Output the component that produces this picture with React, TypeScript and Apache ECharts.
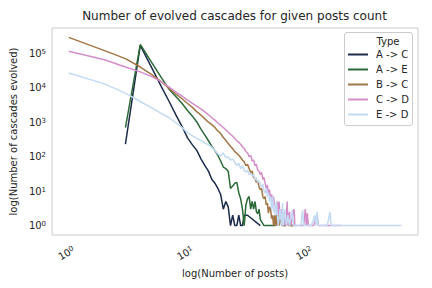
import { useEffect, useRef } from "react";
import * as echarts from "echarts";

const seriesNames = ["A -> C", "A -> E", "B -> C", "C -> D", "E -> D"];
const seriesColors = ["#1c2b4b", "#2b6a38", "#a37646", "#d38ec8", "#c3daf3"];

const acPoints = [
  [3, 230], [4, 170000], [5, 38000], [6, 11000], [7, 4000], [8, 1600], [9, 750],
  [10, 350], [11, 220], [12, 150], [13, 85], [14, 55], [15, 38], [16, 22], [17, 17],
  [18, 12], [19, 8], [20, 3], [21, 5], [22, 3.5], [23, 1], [24, 2], [25, 1], [26, 1],
  [27, 2], [28, 1], [29, 1], [30, 2], [32, 2], [41, 1],
];

const aePoints = [
  [3, 700], [4, 180000], [5, 54000], [6, 20000], [7, 9000], [8, 5500], [9, 3500],
  [10, 2200], [11, 1500], [12, 1000], [13, 620], [14, 420], [15, 290], [16, 200],
  [17, 150], [18, 110], [19, 75], [20, 50], [21, 45], [22, 38], [23, 12], [24, 14],
  [25, 17], [26, 18], [27, 9], [28, 6], [29, 3], [30, 1], [31, 4], [32, 6], [33, 7],
  [34, 3], [35, 5], [36, 3], [37, 5], [38, 2.5], [39, 2.2], [40, 3], [41, 1.5],
  [42, 1.3], [44, 1], [47, 1], [50, 1], [55, 1], [57, 2], [60, 2], [63, 1], [67, 1],
  [70, 2], [74, 1], [78, 1],
];

const bcPoints = [
  [1, 290000], [2, 120000], [3, 70000], [4, 40000], [5, 24000], [6, 15000], [7, 9500],
  [8, 6500], [9, 4800], [10, 3500], [11, 2700], [12, 2000], [13, 1600], [14, 1250],
  [15, 1000], [16, 850], [17, 700], [18, 560], [19, 470], [20, 360], [21, 300],
  [22, 240], [23, 200], [24, 170], [25, 140], [26, 125], [27, 110], [28, 95], [29, 80],
  [30, 70], [31, 55], [32, 60], [33, 45], [34, 35], [35, 38], [36, 25], [37, 22],
  [38, 18], [39, 20], [40, 13], [41, 11], [42, 12], [43, 7], [44, 6], [45, 7], [46, 4],
  [47, 4.5], [48, 2.3], [49, 3.5], [50, 3], [51, 1.6], [52, 2], [53, 1], [54, 2],
  [55, 1], [56, 3], [57, 1], [58, 2], [59, 1], [61, 2], [62, 1], [64, 2], [65, 1],
  [68, 1], [70, 2], [71, 1], [78, 1],
];

const cdPoints = [
  [1, 115000], [2, 65000], [3, 40000], [4, 29000], [5, 21000], [6, 15000], [7, 10500],
  [8, 7500], [9, 5700], [10, 4400], [11, 3500], [12, 2900], [13, 2400], [14, 2000],
  [15, 1650], [16, 1350], [17, 1150], [18, 950], [19, 820], [20, 700], [21, 600],
  [22, 520], [23, 450], [24, 390], [25, 340], [26, 290], [27, 260], [28, 230],
  [29, 195], [30, 170], [31, 140], [32, 130], [33, 100], [34, 110], [35, 75], [36, 80],
  [37, 55], [38, 60], [39, 40], [40, 38], [41, 30], [42, 35], [43, 22], [44, 25],
  [45, 17], [46, 12], [47, 15], [48, 8], [49, 11], [50, 6], [51, 8], [52, 5], [53, 7],
  [54, 3], [55, 4], [56, 2], [57, 5], [58, 2], [59, 5], [60, 1.5], [62, 3], [63, 1],
  [65, 2.5], [66, 1], [68, 2], [69, 5], [70, 1], [72, 2.5], [74, 1], [77, 2], [79, 3],
  [80, 1], [85, 1], [90, 1], [95, 1], [98, 3], [100, 1], [102, 2.3], [104, 1],
  [115, 1], [123, 2], [126, 1], [150, 1], [195, 1],
];

const edPoints = [
  [1, 27000], [2, 13000], [3, 7000], [4, 4000], [5, 2600], [6, 1800], [7, 1350],
  [8, 950], [9, 700], [10, 500], [11, 400], [12, 340], [13, 290], [14, 250], [15, 220],
  [16, 190], [17, 150], [18, 120], [19, 105], [20, 130], [21, 95], [22, 100], [23, 80],
  [24, 85], [25, 70], [26, 55], [27, 65], [28, 45], [29, 55], [30, 40], [31, 36],
  [32, 40], [33, 30], [34, 33], [35, 28], [36, 30], [37, 21], [38, 25], [39, 18],
  [40, 20], [41, 15], [42, 13], [43, 16], [44, 10], [45, 9], [46, 12], [47, 7], [48, 9],
  [49, 5], [50, 7], [51, 3], [52, 7], [53, 2.5], [54, 4], [55, 2], [56, 5], [57, 2],
  [58, 1], [60, 3], [62, 1], [63, 4.5], [64, 1], [66, 3], [68, 1], [70, 2], [72, 1],
  [76, 2.8], [78, 1], [85, 1], [90, 1], [93, 2.8], [95, 1], [110, 1], [118, 2],
  [120, 1], [123, 2.5], [126, 1], [150, 1], [158, 2.5], [162, 1], [200, 1], [300, 1],
  [400, 1], [500, 1], [631, 1],
];

const allPoints = [acPoints, aePoints, bcPoints, cdPoints, edPoints];

const titleText = "Number of evolved cascades for given posts count";
const xAxisTitle = "log(Number of posts)";
const yAxisTitle = "log(Number of cascades evolved)";
const legendTitle = "Type";

const xRange = [0.724, 871];
const yRange = [0.533, 543000];

function powLabel(v: number): string {
  if (!(v > 0)) return "";
  const e = Math.log10(v);
  const r = Math.round(e);
  if (Math.abs(e - r) > 1e-6 || r < 0) return "";
  return "{a|10}{b|" + r + "}";
}

const FONT = "DejaVu Sans";
const TEXT = "#262626";

const tickRich = {
  a: { fontSize: 10, color: TEXT, fontFamily: FONT },
  b: { fontSize: 7, color: TEXT, fontFamily: FONT, verticalAlign: "top" },
};

export default function App() {
  const ref = useRef<HTMLDivElement>(null);
  useEffect(() => {
    if (!ref.current) return;
    const chart = echarts.init(ref.current, null, { renderer: "svg" });
    chart.setOption({
      animation: false,
      backgroundColor: "#ffffff",
      textStyle: { fontFamily: FONT },
      grid: {
        left: 51,
        right: 14,
        top: 28,
        bottom: 53,
        show: true,
        borderColor: "#cccccc",
        borderWidth: 1,
        backgroundColor: "transparent",
      },
      xAxis: {
        type: "log",
        logBase: 10,
        min: xRange[0],
        max: xRange[1],
        name: xAxisTitle,
        nameLocation: "middle",
        nameGap: 30,
        nameTextStyle: { fontSize: 10, color: TEXT, fontFamily: FONT },
        axisLine: { show: false },
        axisTick: { show: false },
        splitLine: { show: false },
        minorTick: { show: false },
        axisLabel: {
          rotate: 30,
          margin: 17,
          padding: [0, -6, 0, 0],
          fontSize: 10,
          color: TEXT,
          fontFamily: FONT,
          rich: tickRich,
          formatter: (v: number) => powLabel(v),
        },
      },
      yAxis: {
        type: "log",
        logBase: 10,
        min: yRange[0],
        max: yRange[1],
        name: yAxisTitle,
        nameLocation: "middle",
        nameGap: 32,
        nameTextStyle: { fontSize: 10, color: TEXT, fontFamily: FONT },
        axisLine: { show: false },
        axisTick: { show: false },
        splitLine: { show: false },
        axisLabel: {
          margin: 6,
          fontSize: 10,
          color: TEXT,
          fontFamily: FONT,
          rich: tickRich,
          formatter: (v: number) => powLabel(v),
        },
      },
      legend: {
        data: seriesNames,
        orient: "vertical",
        left: 348,
        top: 47,
        icon: "rect",
        itemWidth: 20,
        itemHeight: 2,
        itemGap: 0,
        padding: 0,
        textStyle: {
          fontSize: 10,
          color: TEXT,
          fontFamily: FONT,
          lineHeight: 15,
          padding: [0, 0, 0, 3],
        },
        z: 5,
      },
      graphic: [
        {
          type: "text",
          x: 234.5,
          y: 16,
          style: {
            text: titleText,
            fontSize: 12,
            fontFamily: FONT,
            fill: TEXT,
            textAlign: "center",
            textVerticalAlign: "middle",
          },
        },
        {
          type: "rect",
          z: 3,
          shape: { x: 344.5, y: 32.5, width: 68, height: 93, r: 2.5 },
          style: { fill: "rgba(255,255,255,0.8)", stroke: "#cccccc", lineWidth: 1 },
        },
        {
          type: "text",
          z: 4,
          x: 388,
          y: 41,
          style: {
            text: legendTitle,
            fontSize: 10,
            fontFamily: FONT,
            fill: TEXT,
            textAlign: "center",
            textVerticalAlign: "middle",
          },
        },
      ],
      series: seriesNames.map((name, i) => ({
        name,
        type: "line",
        data: allPoints[i],
        showSymbol: false,
        symbol: "none",
        lineStyle: { width: 1.5, color: seriesColors[i] },
        itemStyle: { color: seriesColors[i] },
        z: 2 + i * 0.01,
      })),
    });
    return () => chart.dispose();
  }, []);
  return (
    <div
      ref={ref}
      style={{ position: "absolute", left: 0, top: 0, width: 432, height: 288 }}
    />
  );
}
